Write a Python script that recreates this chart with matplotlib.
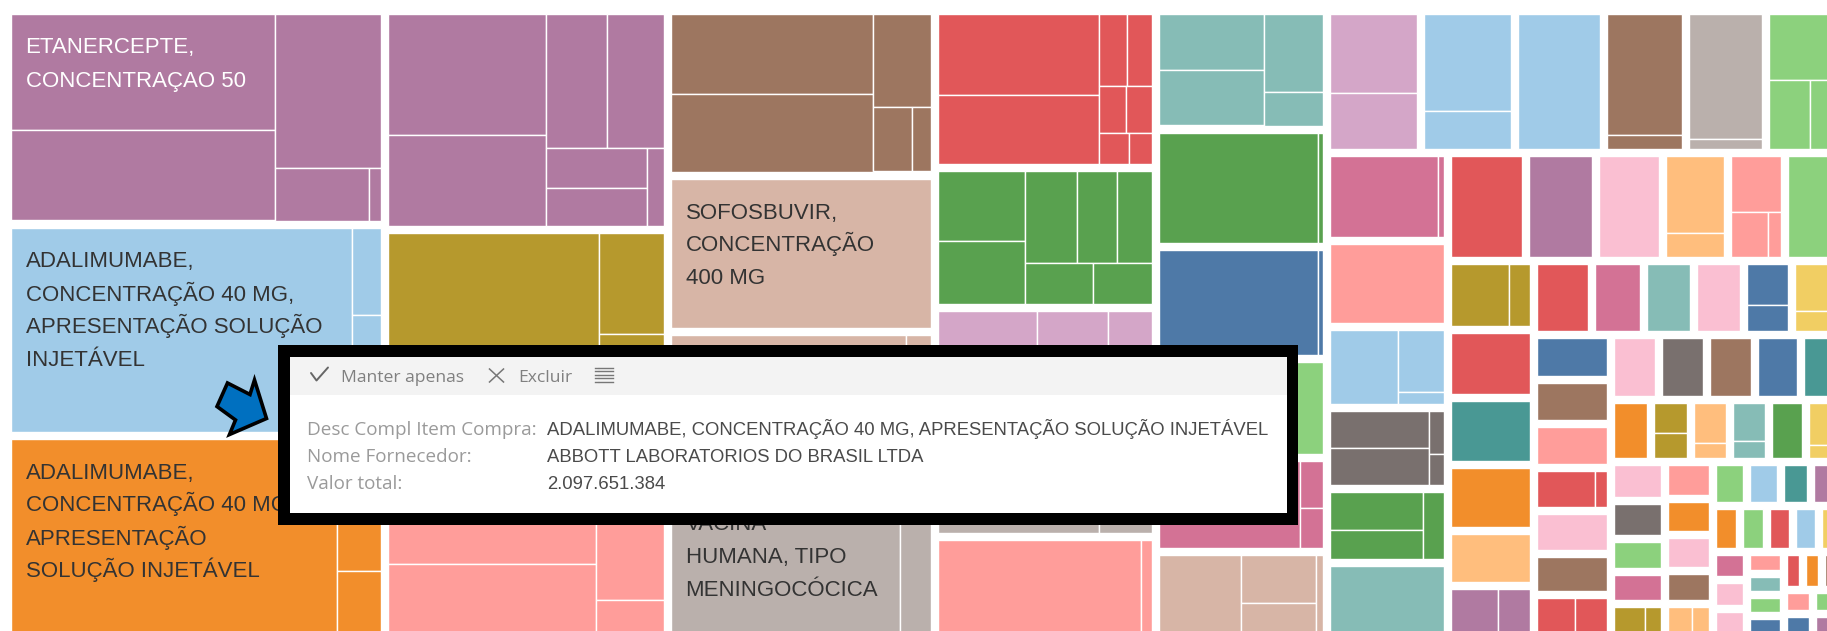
import matplotlib
matplotlib.use("Agg")
import matplotlib.pyplot as plt
from matplotlib.patches import Rectangle, Polygon

plt.rcParams["font.family"] = ["Open Sans", "DejaVu Sans"]
ROTULO_FONTE = ["Liberation Sans", "DejaVu Sans"]

PHI = (1 + 5 ** 0.5) / 2

# paleta Tableau 20
AZUL, AZUL_CL = "#4e79a7", "#a0cbe8"
LARANJA, PESSEGO = "#f28e2b", "#ffbe7d"
VERDE, VERDE_CL = "#59a14f", "#8cd17d"
OLIVA, AMARELO = "#b6992d", "#f1ce63"
TEAL, TEAL_CL = "#499894", "#86bcb6"
VERMELHO, SALMAO = "#e15759", "#ff9d9a"
CINZA, CINZA_CL = "#79706e", "#bab0ac"
ROSA, ROSA_CL = "#d37295", "#fabfd2"
ROXO, LILAS = "#b07aa1", "#d4a6c8"
MARROM, BEGE = "#9d7660", "#d7b5a6"

# valor total por fornecedor (ordem decrescente)
fornecedor_valor = [
    80678, 79547, 75777, 61977, 59147, 56034, 44055, 41786, 41500, 39801,
    34997, 30789, 26580, 24365, 21929, 20349, 20007, 19152, 16929, 16074,
    14535, 13464, 13392, 12672, 11808, 11376, 10656, 10527, 10406, 9801,
    9790, 8954, 8833, 8409, 7487, 7161, 7053, 6076, 5968, 5950,
    5916, 5742, 5655, 4785, 4350, 4266, 3850, 3700, 3700, 3624,
    3548, 3454, 3440, 3400, 3330, 3300, 3190, 3170, 3160, 3150,
    3140, 2990, 2580, 2490, 2460, 2440, 2420, 2300, 2110, 2080,
    2060, 1800, 1770, 1740, 1735, 1720, 1700, 1600, 1525, 1480,
    1460, 1300, 1280, 1260, 1240, 1220, 1200, 990, 975, 960,
    950, 820, 800, 780, 760, 740, 720, 700, 680, 660,
    640, 620,
]

fornecedor_cor = [
    ROXO, AZUL_CL, LARANJA, ROXO, OLIVA, SALMAO, MARROM, BEGE, BEGE, CINZA_CL,
    VERMELHO, VERDE, LILAS, CINZA_CL, SALMAO, TEAL_CL, VERDE, AZUL, VERDE_CL, ROSA,
    BEGE, LILAS, AZUL_CL, AZUL_CL, MARROM, CINZA_CL, VERDE_CL, ROSA, SALMAO, AZUL_CL,
    CINZA, VERDE, TEAL_CL, VERMELHO, ROXO, ROSA_CL, PESSEGO, SALMAO, VERDE_CL, OLIVA,
    VERMELHO, TEAL, LARANJA, PESSEGO, ROXO, VERMELHO, ROSA, TEAL_CL, ROSA_CL, AZUL,
    AMARELO, AZUL, MARROM, SALMAO, VERMELHO, ROSA_CL, MARROM, VERMELHO, ROSA_CL, CINZA,
    MARROM, AZUL, TEAL, LARANJA, OLIVA, PESSEGO, TEAL_CL, VERDE, AMARELO, ROSA_CL,
    CINZA, VERDE_CL, ROSA, OLIVA, SALMAO, LARANJA, ROSA_CL, MARROM, PESSEGO, VERDE_CL,
    AZUL_CL, TEAL, ROXO, LARANJA, VERDE_CL, VERMELHO, AZUL_CL, AMARELO, ROSA, ROSA_CL,
    ROSA_CL, SALMAO, TEAL_CL, VERDE_CL, AZUL, VERMELHO, LARANJA, MARROM, SALMAO, AZUL,
    VERDE_CL, ROXO,
]

# peso relativo dos itens de compra dentro de cada fornecedor
itens_valor = [
    [30624, 23760, 16324, 4888, 624],
    [69223, 2520, 1750, 1617],
    [62918, 5720, 2684],
    [18997, 14287, 8174, 7504, 4040, 3838, 1248],
    [42420, 6464, 3500, 2900],
    [25410, 14280, 10600, 2150],
    [16000, 15400, 5300, 2450, 1200],
    [1],
    [35015, 2000, 1200, 525],
    [32060, 4200],
    [12880, 11109, 1944, 1800, 1242, 1196, 900, 700],
    [5916, 5394, 4590, 3510, 3150, 2680, 2360],
    [11088, 4060, 3850, 2520, 2394],
    [16422, 3180, 2226],
    [18564, 1001],
    [5824, 5720, 4602, 1947],
    [17380, 550],
    [16590, 525],
    [1],
    [12180, 1058, 897],
    [6240, 3552, 2146, 546],
    [6708, 4816],
    [8256, 3268],
    [1],
    [9120, 1064],
    [8928, 720],
    [4356, 2720, 1768],
    [8480, 480],
    [1],
    [4884, 2760, 552],
    [3528, 3528, 588, 420],
    [3312, 2576, 1320],
    [1], [1], [1], [1],
    [4408, 1392],
    [2700, 1656, 552],
    [1],
    [3712, 1344],
    [1], [1], [1], [1],
    [1974, 1344],
    [1], [1], [1], [1],
    [1722, 1092],
    [1880, 800],
    [1], [1], [1],
    [1972, 408],
    [1], [1],
    [1216, 1024],
    [1], [1], [1], [1], [1],
    [1],
    [900, 780],
    [1280, 512],
    [1216, 576],
    [1],
    [1100, 364],
    [1], [1], [1], [1],
    [33, 17],
    [1], [1], [1], [1],
    [25, 17],
] + [[1]] * 23

# rótulos visíveis: (fornecedor, linhas, cor)
rotulos = [
    (0, ["ETANERCEPTE,", "CONCENTRAÇAO 50"], "white"),
    (1, ["ADALIMUMABE,", "CONCENTRAÇÃO 40 MG,", "APRESENTAÇÃO SOLUÇÃO", "INJETÁVEL"], "#333333"),
    (2, ["ADALIMUMABE,", "CONCENTRAÇÃO 40 MG,", "APRESENTAÇÃO", "SOLUÇÃO INJETÁVEL"], "#333333"),
    (7, ["SOFOSBUVIR,", "CONCENTRAÇÃO", "400 MG"], "#333333"),
    (9, ["VACINA", "HUMANA, TIPO", "MENINGOCÓCICA"], "#333333"),
]

tooltip_campos = ["Desc Compl Item Compra:", "Nome Fornecedor:", "Valor total:"]
tooltip_valores = [
    "ADALIMUMABE, CONCENTRAÇÃO 40 MG, APRESENTAÇÃO SOLUÇÃO INJETÁVEL",
    "ABBOTT LABORATORIOS DO BRASIL LTDA",
    "2.097.651.384",
]


def squarify(values, x0, y0, x1, y1, ratio=PHI):
    """squarified treemap (mesma regra do d3, razão áurea)"""
    n = len(values)
    rects = [None] * n
    total = float(sum(values))
    i0 = 0
    while i0 < n:
        dx, dy = x1 - x0, y1 - y0
        i1 = i0
        s = values[i1]
        i1 += 1
        vmin = vmax = s
        alpha = max(dy / dx, dx / dy) / (total * ratio)
        beta = s * s * alpha
        best = max(vmax / beta, beta / vmin)
        while i1 < n:
            v = values[i1]
            s2 = s + v
            lo, hi = min(vmin, v), max(vmax, v)
            beta = s2 * s2 * alpha
            r = max(hi / beta, beta / lo)
            if r > best:
                break
            s, vmin, vmax, best = s2, lo, hi, r
            i1 += 1
        if dx < dy:
            yb = y0 + dy * s / total if i1 < n else y1
            xx = x0
            for k in range(i0, i1):
                w = dx * values[k] / s
                rects[k] = (xx, y0, xx + w, yb)
                xx += w
            y0 = yb
        else:
            xb = x0 + dx * s / total if i1 < n else x1
            yy = y0
            for k in range(i0, i1):
                h = dy * values[k] / s
                rects[k] = (x0, yy, xb, yy + h)
                yy += h
            x0 = xb
        total -= s
        i0 = i1
    return rects


fig = plt.figure(figsize=(18.27, 6.31), dpi=100)
ax = fig.add_axes([0, 0, 1, 1])
ax.set_xlim(0, 1827)
ax.set_ylim(631, 0)
ax.axis("off")

X0, Y0, ALTURA = 7, 10, 626
LARGURA = sum(fornecedor_valor) / ALTURA
PAD = 3.5

grupos = squarify(fornecedor_valor, X0, Y0, X0 + LARGURA, Y0 + ALTURA)
item_rects = []
for g, (gx0, gy0, gx1, gy1) in enumerate(grupos):
    rs = squarify(itens_valor[g], gx0 + PAD, gy0 + PAD, gx1 - PAD, gy1 - PAD)
    item_rects.append(rs)
    for (a, b, c, d) in rs:
        ax.add_patch(Rectangle((a, b), c - a, d - b, facecolor=fornecedor_cor[g],
                               edgecolor="white", linewidth=1.0, zorder=1))

for g, linhas, cor in rotulos:
    a, b, c, d = item_rects[g][0]
    for k, linha in enumerate(linhas):
        ax.text(a + 15, b + 40 + 33 * k, linha, fontsize=16, color=cor,
                family=ROTULO_FONTE, va="baseline", ha="left", zorder=2)

# seta azul
seta = [(227.5, 383), (250, 394.5), (254.5, 380), (266.5, 418.5),
        (229.5, 434.5), (235.5, 420), (217, 406.5)]
ax.add_patch(Polygon(seta, closed=True, facecolor="#0070c0", edgecolor="black",
                     linewidth=2.6, joinstyle="miter", zorder=5))

# tooltip
ax.add_patch(Rectangle((278, 345), 1020, 180, facecolor="black", edgecolor="none", zorder=6))
ax.add_patch(Rectangle((289.5, 357), 997, 156, facecolor="white", edgecolor="none", zorder=7))
ax.add_patch(Rectangle((289.5, 357), 997, 38, facecolor="#f3f3f3", edgecolor="none", zorder=7))

ax.plot([311, 316.5, 328], [373, 380.5, 367.5], color="#666666", lw=1.4,
        solid_capstyle="round", zorder=8)
ax.text(341, 382, "Manter apenas", fontsize=12.6, color="#808080", va="baseline", zorder=8)
ax.plot([489.5, 503.5], [369, 382], color="#777777", lw=1.1, zorder=8)
ax.plot([503.5, 489.5], [369, 382], color="#777777", lw=1.1, zorder=8)
ax.text(518, 382, "Excluir", fontsize=12.6, color="#808080", va="baseline", zorder=8)
for yy in [367.5, 371, 374.5, 378, 381.5]:
    ax.plot([595, 597.5], [yy, yy], color="#777777", lw=1.0, zorder=8)
    ax.plot([599, 613], [yy, yy], color="#777777", lw=1.0, zorder=8)

for k, (campo, valor) in enumerate(zip(tooltip_campos, tooltip_valores)):
    y = 435 + 27 * k
    ax.text(307, y, campo, fontsize=13.6, color="#9a9a9a", va="baseline", zorder=8)
    ax.text(547, y, valor, fontsize=13.3, color="#4a4a4a", family=ROTULO_FONTE,
            va="baseline", zorder=8)

fig.savefig("out.png", dpi=100, facecolor="white")
